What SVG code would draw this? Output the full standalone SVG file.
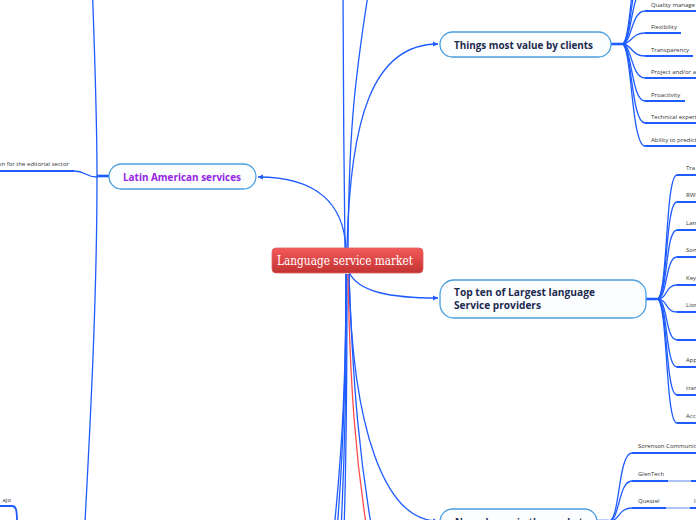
<svg xmlns="http://www.w3.org/2000/svg" width="696" height="520" viewBox="0 0 696 520">
<defs>
<linearGradient id="rg" x1="0" y1="0" x2="0" y2="1"><stop offset="0" stop-color="#f45a5a"/><stop offset="1" stop-color="#c23232"/></linearGradient>
<marker id="ar" markerUnits="userSpaceOnUse" markerWidth="6" markerHeight="6" refX="5" refY="3" orient="auto"><path d="M0,0.5 L5,3 L0,5.5 z" fill="#1f5cff"/></marker>
</defs>
<style>
.c{fill:none;stroke:#1f5cff;stroke-width:1.3}
.u{fill:none;stroke:#1f5cff;stroke-width:1.8}
.h{fill:none;stroke:#1f5cff;stroke-width:2.6}
.l{fill:none;stroke:#adc3f7;stroke-width:1.8}
.r{fill:none;stroke:#ff4d4d;stroke-width:1.3}
.t{font-family:"Open Sans","Noto Sans",sans-serif;font-size:6px;fill:#333}
.n{fill:#fbfdff;stroke:#4a9fe0;stroke-width:1.3}
.nt{font-family:"Open Sans","Noto Sans",sans-serif;font-size:11px;font-weight:700;fill:#1b2a4e}
</style>
<rect width="696" height="520" fill="#fff"/>
<g id="connectors">
<path class="c" d="M346,249 C344,205 318,177 258,177" marker-end="url(#ar)"/>
<path class="c" d="M347,248 C350,120 372,44 438,44" marker-end="url(#ar)"/>
<path class="c" d="M349,272 C358,292 390,298 438,298" marker-end="url(#ar)"/>
<path class="c" d="M349,274 C352,430 385,521 438,521" marker-end="url(#ar)"/>
<path class="c" d="M345,248 C344,160 343,80 343,-10"/>
<path class="c" d="M348,248 C349,140 353,90 368,-5"/>
<path class="c" d="M346,274 C346,400 340,470 334,530"/>
<path class="c" d="M346,274 C346,400 342,470 337,530"/>
<path class="c" d="M346,274 C347,400 344,470 341,530"/>
<path class="c" d="M347,274 C347,400 346,470 344,530"/>
<path class="r" d="M348,274 C350,390 356,460 367,530"/>
<path class="c" d="M349,274 C353,390 360,460 372,530"/>
<!-- Things hub -->
<path class="h" d="M611,44 L622,44"/>
<path class="c" d="M622,44 C632,44 631,-56 645,-56"/>
<path class="c" d="M622,44 C632,44 631,-34 645,-34"/>
<path class="c" d="M622,44 C632,44 631,-12 645,-12"/>
<path class="c" d="M622,44 C632,44 631,11 645,11"/>
<path class="c" d="M622,44 C632,44 631,33 645,33"/>
<path class="c" d="M622,44 C632,44 631,56 645,56"/>
<path class="c" d="M622,44 C632,44 631,78 645,78"/>
<path class="c" d="M622,44 C632,44 631,101 645,101"/>
<path class="c" d="M622,44 C632,44 631,123 645,123"/>
<path class="c" d="M622,44 C632,44 631,146 645,146"/>
<path class="u" d="M645,11 L700,11 M645,33 L681,33 M645,56 L693,56 M645,78 L700,78 M645,101 L685,101 M645,123 L700,123 M645,146 L700,146"/>
<!-- Top ten hub -->
<path class="h" d="M646,299 L657,299"/>
<path class="c" d="M657,299 C668,299 665,175 677,175"/>
<path class="c" d="M657,299 C668,299 665,202 677,202"/>
<path class="c" d="M657,299 C668,299 665,230 677,230"/>
<path class="c" d="M657,299 C668,299 665,257 677,257"/>
<path class="c" d="M657,299 C668,299 665,285 677,285"/>
<path class="c" d="M657,299 C668,299 665,312 677,312"/>
<path class="c" d="M657,299 C668,299 665,340 677,340"/>
<path class="c" d="M657,299 C668,299 665,367 677,367"/>
<path class="c" d="M657,299 C668,299 665,395 677,395"/>
<path class="c" d="M657,299 C668,299 665,423 677,423"/>
<path class="u" d="M677,175 L700,175 M677,202 L700,202 M677,230 L700,230 M677,257 L700,257 M677,285 L700,285 M677,312 L700,312 M677,340 L700,340 M677,367 L700,367 M677,395 L700,395 M677,423 L700,423"/>
<!-- New players hub -->
<path class="h" d="M597,521 L609,521"/>
<path class="c" d="M609,521 C620,521 618,453 632,453"/>
<path class="c" d="M609,521 C620,521 618,481 632,481"/>
<path class="c" d="M609,521 C620,521 618,508 632,508"/>
<path class="u" d="M632,453 L700,453 M632,481 L668,481 M632,508 L666,508 M691,481 L700,481 M690,508 L700,508"/>
<path class="l" d="M668,481 L691,481 M666,508 L690,508"/>
<!-- Latin hub -->
<path class="h" d="M109,176 L97,176"/>
<path class="c" d="M97,176 C97,120 95,60 92,-20"/>
<path class="c" d="M97,176 C97,300 90,430 84,540"/>
<path class="c" d="M97,177 C85,177 86,171 74,171"/>
<path class="u" d="M-5,171 L74,171"/>
<!-- bottom-left -->
<path class="u" d="M-5,506 L12,506 C16,506 17,510 17,522"/>
</g>
<g id="n-center">
<rect x="272" y="248" width="151" height="25" rx="4" fill="url(#rg)" stroke="#e06060" stroke-width="0.8"/>
<text x="277" y="265" font-family="'DejaVu Serif','Liberation Serif',serif" font-size="12" fill="#fff" textLength="136" lengthAdjust="spacingAndGlyphs">Language service market</text>
</g>
<g id="n-latin">
<rect class="n" x="109" y="164" width="147" height="25" rx="12.5"/>
<text class="nt" x="123" y="180.5" fill="#9424e6" style="fill:#9424e6" textLength="118" lengthAdjust="spacingAndGlyphs">Latin American services</text>
</g>
<g id="n-things">
<rect class="n" x="440" y="32" width="171" height="25" rx="12.5"/>
<text class="nt" x="454" y="48.5" textLength="139" lengthAdjust="spacingAndGlyphs">Things most value by clients</text>
</g>
<g id="n-topten">
<rect class="n" x="440" y="280" width="206" height="38" rx="14"/>
<text class="nt" x="454" y="296" textLength="141" lengthAdjust="spacingAndGlyphs">Top ten of Largest language</text>
<text class="nt" x="454" y="309" textLength="87" lengthAdjust="spacingAndGlyphs">Service providers</text>
</g>
<g id="n-new">
<rect class="n" x="440" y="509" width="157" height="25" rx="12.5"/>
<text class="nt" x="455" y="526" textLength="128" lengthAdjust="spacingAndGlyphs">New players in the market</text>
</g>
<g id="things-children">
<text class="t" x="651" y="6.5">Quality manage</text>
<text class="t" x="651" y="29">Flexibility</text>
<text class="t" x="651" y="51.5">Transparency</text>
<text class="t" x="651" y="74">Project and/or a</text>
<text class="t" x="651" y="96.5">Proactivity</text>
<text class="t" x="651" y="119">Technical expert</text>
<text class="t" x="651" y="141.5">Ability to predict</text>
</g>
<g id="topten-children">
<text class="t" x="686" y="170">Tra</text>
<text class="t" x="686" y="197">RWS</text>
<text class="t" x="686" y="225">Lan</text>
<text class="t" x="686" y="252">Son</text>
<text class="t" x="686" y="280">Key</text>
<text class="t" x="686" y="307">Lion</text>
<text class="t" x="686" y="362">App</text>
<text class="t" x="686" y="390">tran</text>
<text class="t" x="686" y="418">Acc</text>
</g>
<g id="new-children">
<text class="t" x="638" y="448">Sorenson Communic</text>
<text class="t" x="638" y="476">GlenTech</text>
<text class="t" x="638" y="503">Questel</text>
<text class="t" x="694" y="503">I</text>
</g>
<g id="latin-children">
<text class="t" x="69" y="166" text-anchor="end">on for the editorial sector</text>
</g>
<g id="bottom-left-child">
<text class="t" x="11" y="502" text-anchor="end">ajo</text>
</g>
</svg>
